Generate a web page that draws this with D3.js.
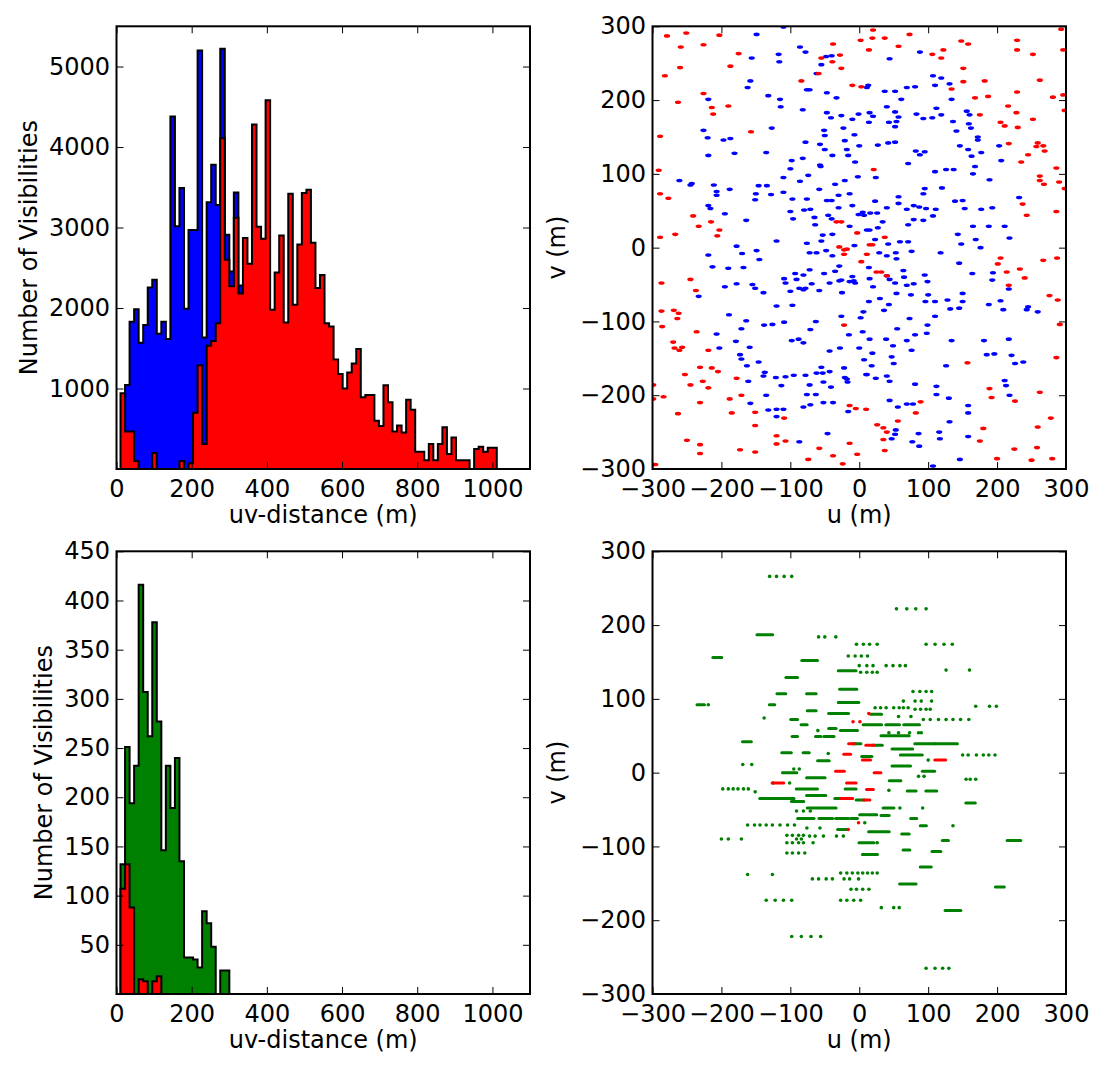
<!DOCTYPE html>
<html>
<head>
<meta charset="utf-8">
<script src="https://cdnjs.cloudflare.com/ajax/libs/d3/7.8.5/d3.min.js"></script>
<style>
body { margin: 0; background: #fff; }
svg text { font-family: "DejaVu Sans", sans-serif; font-size: 24px; fill: #000; }
</style>
</head>
<body>
<div id="chart-area"></div>
<script>
// Histogram bins (uv-distance, m) shared by all histograms
var binStart = 10.7, binWidth = 12.06;

// Top histogram counts per bin
var topBlueCounts = [0, 1044, 1830, 1985, 1570, 1790, 2255, 2350, 1680, 1830, 1615, 4380, 3015, 3490,
    1990, 2970, 2970, 5200, 1635, 3315, 3780, 3280, 5220, 2910, 2455, 3435, 2280];
var topRedCounts = [940, 465, 465, 100, 0, 0, 0, 200, 0, 0, 0, 0, 0, 100, 0, 70, 700, 1290, 310, 1530,
    1590, 1810, 4110, 2600, 2270, 3120, 2180, 2870, 2550, 4280, 3010, 2860, 4580, 1980, 2440, 2900,
    1820, 3420, 2040, 2790, 3430, 3470, 2810, 2250, 2410, 1810, 1770, 1360, 1180, 1000, 1200, 1310,
    1490, 890, 920, 920, 600, 535, 1040, 830, 465, 540, 455, 860, 735, 215, 215, 110, 310, 110, 310,
    520, 185, 390, 110, 110, 110, 0, 250, 275, 215, 265, 265];

// Bottom histogram counts per bin
var bottomGreenCounts = [132, 251, 194, 232, 416, 307, 262, 378, 277, 146, 232, 189, 240, 135, 37, 37,
    35, 27, 84, 72, 48, 0, 24, 24];
var bottomRedCounts = [107, 132, 88, 0, 15, 13, 0, 13, 18];

// Top uv-coverage [u, v] in m
var topBluePoints = [[-149,289],[-110,299],[-86,272],[-78,265],[88,265],[-156,257],[-117,262],[-116,252],
    [-48,259],[-55,248],[-40,260],[44,256],[107,233],[119,230],[-162,217],[-158,226],[-132,206],[-76,214],
    [-72,214],[-62,236],[-47,210],[-33,203],[13,220],[11,217],[37,212],[52,212],[69,217],[81,218],[110,220],
    [131,222],[-219,201],[-115,201],[-114,191],[-82,187],[-47,183],[-41,176],[-26,179],[-1,181],[15,183],
    [20,178],[40,191],[52,184],[61,201],[83,181],[93,175],[106,176],[112,189],[119,180],[134,201],[156,185],
    [160,180],[-226,159],[-220,149],[-197,146],[-187,148],[-127,162],[-78,143],[-51,159],[-50,152],[-23,162],
    [-10,174],[-7,153],[-21,145],[14,170],[43,170],[54,171],[52,164],[57,177],[136,171],[141,158],[159,168],
    [162,162],[172,150],[172,146],[-219,125],[-181,128],[-135,129],[-57,140],[-50,133],[-39,125],[-18,133],
    [-16,125],[0,138],[-6,116],[27,139],[42,142],[52,143],[82,131],[88,126],[95,130],[146,138],[158,133],
    [163,124],[177,129],[203,138],[206,118],[-98,118],[-82,121],[-57,112],[-261,91],[-245,85],[-243,87],
    [-211,85],[-207,76],[-188,79],[-110,95],[-100,107],[-86,90],[-74,98],[-56,110],[-35,86],[-21,91],[-2,96],
    [24,95],[71,114],[110,103],[126,106],[137,106],[165,100],[168,110],[189,92],[-207,71],[-146,84],[-150,73],
    [-151,65],[-134,84],[-128,72],[-110,75],[-97,66],[-76,66],[-58,79],[-47,64],[-40,64],[-30,71],[-14,73],
    [23,63],[57,69],[95,80],[93,73],[120,81],[139,63],[150,64],[232,68],[-219,57],[-216,53],[-195,46],
    [-164,37],[-100,49],[-96,39],[-80,51],[-71,52],[-65,41],[-45,44],[-40,39],[-30,54],[-10,57],[-1,45],
    [5,48],[7,44],[16,47],[26,47],[40,54],[57,60],[69,52],[79,57],[87,55],[79,38],[93,37],[97,53],[107,43],
    [111,52],[153,53],[177,52],[193,54],[-64,31],[-53,17],[-39,18],[-14,29],[11,24],[15,24],[27,27],[34,35],
    [23,11],[42,5],[59,8],[71,31],[71,8],[143,18],[148,5],[165,29],[169,11],[188,29],[211,29],[218,13],
    [-178,2],[-170,-8],[-219,-10],[-213,-26],[-190,-28],[-149,-4],[-145,-16],[-120,9],[-76,6],[-72,-7],
    [-62,-7],[-55,9],[-48,-4],[-39,-11],[-29,-25],[-7,3],[29,-7],[40,-11],[53,-7],[54,-15],[76,-5],[118,-7],
    [145,-21],[176,0],[-233,-66],[-195,-53],[-178,-49],[-155,-50],[-151,-55],[-168,-27],[-139,-61],
    [-109,-42],[-107,-48],[-100,-59],[-93,-35],[-91,-43],[-81,-37],[-78,-55],[-72,-30],[-69,-49],[-58,-58],
    [-51,-35],[-43,-48],[-35,-32],[-29,-45],[-26,-44],[-25,-61],[-14,-46],[-8,-45],[-6,-48],[-10,-39],
    [14,-27],[15,-42],[20,-53],[40,-38],[44,-43],[52,-48],[64,-31],[65,-40],[69,-51],[75,-64],[79,-49],
    [95,-37],[99,-46],[100,-64],[96,-73],[164,-35],[194,-34],[193,-44],[217,-56],[-189,-91],[-120,-79],
    [-97,-78],[-87,-55],[-81,-57],[-26,-93],[6,-87],[2,-95],[14,-73],[30,-69],[43,-77],[36,-85],[54,-62],
    [110,-73],[110,-93],[128,-71],[132,-83],[145,-82],[150,-73],[150,-62],[188,-77],[205,-72],[209,-84],
    [243,-84],[245,-80],[259,-87],[-171,-110],[-164,-99],[-179,-127],[-207,-117],[-203,-136],[-138,-105],
    [-126,-104],[-109,-101],[-98,-126],[-88,-124],[-81,-129],[-71,-111],[-63,-100],[-15,-118],[5,-114],
    [15,-124],[39,-124],[55,-110],[73,-96],[81,-118],[99,-105],[98,-116],[134,-126],[181,-126],[217,-124],
    [-173,-145],[-171,-151],[-163,-160],[-159,-135],[-161,-181],[-146,-155],[-137,-169],[-121,-176],
    [-113,-187],[-107,-175],[-95,-173],[-78,-173],[-62,-170],[-55,-162],[-53,-170],[-43,-168],[-43,-140],
    [-28,-136],[-22,-163],[-21,-176],[0,-136],[7,-152],[19,-143],[18,-160],[11,-172],[24,-177],[40,-174],
    [47,-148],[50,-157],[49,-133],[69,-126],[76,-139],[126,-160],[185,-145],[196,-144],[221,-146],
    [226,-157],[238,-155],[-139,-174],[-135,-200],[-132,-220],[-158,-211],[-72,-186],[-52,-182],[-41,-189],
    [-76,-199],[-63,-199],[-18,-178],[-17,-182],[10,-172],[44,-181],[81,-185],[112,-188],[112,-199],
    [130,-204],[211,-180],[213,-187],[218,-200],[-120,-219],[-110,-219],[-81,-216],[-71,-213],[-52,-210],
    [-38,-210],[-16,-222],[44,-207],[56,-216],[69,-212],[78,-212],[-120,-229],[158,-214],[158,-224],
    [-87,-263],[-46,-252],[53,-247],[52,-253],[47,-259],[86,-252],[77,-263],[87,-269],[116,-250],
    [117,-259],[131,-236],[158,-256],[146,-287],[107,-296]];

var topRedPoints = [[-279,287],[-251,291],[-203,288],[20,295],[19,284],[37,284],[73,289],[293,296],[2,281],
    [-259,272],[-226,275],[-175,263],[-38,276],[14,268],[57,273],[106,262],[122,268],[148,280],[158,276],
    [229,281],[229,268],[296,268],[252,262],[-260,244],[-282,233],[-187,246],[-55,257],[-39,252],[-28,261],
    [-26,243],[119,257],[151,243],[262,227],[-226,209],[-84,226],[-59,236],[-10,220],[3,218],[134,215],
    [151,225],[182,226],[187,205],[168,203],[229,211],[296,207],[281,204],[-263,197],[-214,190],[-212,181],
    [-190,192],[175,180],[216,192],[228,183],[252,174],[298,186],[-289,151],[-157,157],[205,170],[211,165],
    [230,163],[217,141],[259,142],[267,138],[235,116],[245,126],[257,137],[269,131],[-291,105],[21,106],
    [262,97],[262,91],[268,86],[286,108],[290,89],[298,80],[-289,73],[-277,67],[-241,43],[-267,18],
    [-215,35],[-33,35],[-26,35],[237,59],[243,44],[286,49],[-289,14],[-233,29],[-206,16],[-203,24],[-3,20],
    [37,14],[-29,1],[-22,-3],[-18,-2],[-22,-9],[3,-19],[11,-9],[15,4],[19,4],[205,-14],[201,-22],[267,-17],
    [287,-14],[-287,-48],[-245,-43],[-237,-58],[25,-33],[32,-33],[40,-38],[214,-33],[217,-51],[233,-29],
    [240,-41],[-287,-86],[-269,-85],[-262,-89],[-264,-96],[-286,-107],[-22,-105],[276,-65],[288,-71],
    [-236,-114],[-270,-128],[-268,-136],[-261,-139],[-257,-135],[291,-104],[-253,-172],[-245,-186],
    [-231,-162],[-227,-181],[-219,-139],[-214,-163],[-205,-168],[157,-156],[286,-149],[-219,-190],
    [-178,-177],[-299,-186],[-299,-205],[-284,-202],[-171,-200],[-188,-205],[89,-209],[189,-191],
    [192,-203],[226,-208],[262,-196],[-231,-210],[-263,-225],[-185,-224],[-151,-223],[-14,-214],[-5,-218],
    [10,-219],[-109,-231],[82,-224],[278,-231],[-250,-261],[-231,-267],[-231,-279],[-173,-274],[-151,-241],
    [-151,-277],[-120,-255],[-120,-266],[-107,-262],[-58,-272],[-14,-265],[26,-240],[35,-244],[40,-250],
    [35,-260],[56,-235],[180,-245],[175,-262],[259,-243],[258,-271],[225,-273],[-74,-287],[-38,-282],
    [-24,-293],[-3,-280],[37,-275],[200,-286],[250,-288],[280,-286],[-296,-294]];

// Bottom uv-coverage: single samples [u, v] and continuous tracks [v, uStart, uEnd]
var bottomGreenDots = [[-130,266],[-120,266],[-109,266],[-98,266],[54,222],[69,222],[82,222],[97,222],
    [-59,184],[-50,184],[-34,184],[-4,174],[6,174],[15,174],[26,174],[97,174],[110,174],[123,174],[135,174],
    [-16,158],[-6,158],[3,158],[12,158],[0,145],[11,145],[20,145],[39,145],[49,145],[59,145],[67,145],
    [126,139],[160,139],[2,136],[11,136],[19,136],[26,136],[78,110],[88,110],[97,110],[105,110],
    [64,97],[81,97],[90,97],[105,97],[-219,92],[169,90],[189,90],[199,90],[23,88],[31,88],[39,88],
    [50,88],[58,88],[64,88],[71,88],[81,86],[89,86],[97,86],[103,86],[57,76],[75,76],[-138,74],
    [93,72],[103,72],[115,72],[126,72],[136,72],[147,72],[159,72],[-60,57],[43,54],[57,54],[73,54],[86,54],
    [90,54],[-45,26],[150,24],[158,24],[170,24],[180,24],[188,24],[197,24],[100,17],[-169,11],[-156,11],
    [-95,5],[-87,5],[86,-5],[94,-5],[155,-9],[161,-9],[169,-9],[-125,-14],[-101,-14],[43,-24],
    [-198,-22],[-190,-22],[-183,-22],[-176,-22],[-168,-22],[-161,-22],[-151,-26],[59,-48],[92,-48],
    [-91,-52],[-81,-52],[-71,-52],[8,-68],[-162,-71],[-152,-71],[-144,-71],[-135,-71],[-126,-71],
    [-115,-71],[-104,-71],[-94,-71],[136,-72],[-76,-75],[-57,-75],[-105,-85],[-97,-85],[-88,-85],
    [-81,-85],[-72,-86],[-64,-86],[-52,-86],[-33,-86],[-23,-86],[-91,-90],[-84,-90],[-200,-90],[-190,-90],
    [-171,-90],[-105,-95],[-97,-95],[-88,-95],[-81,-95],[-67,-95],[26,-95],[-105,-109],[-97,-109],
    [-88,-109],[-79,-109],[-27,-136],[-18,-136],[-10,-136],[-2,-136],[5,-136],[12,-136],[19,-136],
    [26,-136],[-162,-138],[-126,-138],[-68,-144],[-59,-144],[-48,-144],[-39,-144],[-22,-144],[-14,-144],
    [-1,-144],[-12,-158],[-4,-158],[5,-158],[14,-158],[-135,-173],[-122,-173],[-110,-173],[-98,-173],
    [-27,-173],[-18,-173],[-8,-173],[2,-173],[32,-183],[50,-183],[58,-183],[-98,-222],[-84,-222],
    [-70,-222],[-56,-222],[97,-265],[110,-265],[121,-265],[130,-265]];

var bottomGreenDashes = [[187,-147,-127],[156,-211,-201],[152,-82,-62],[138,-29,-6],[129,-105,-91],
    [113,-27,-5],[107,-118,-108],[107,-75,-64],[95,-29,-2],[92,-234,-226],[92,-129,-124],[84,-74,-64],
    [80,-43,-17],[79,18,31],[72,-98,-91],[65,-83,-77],[65,7,31],[65,40,57],[65,66,86],[60,-43,-35],
    [57,-26,-4],[50,33,71],[49,-96,-91],[49,-62,-57],[49,-50,-38],[42,-168,-158],[39,-8,1],[39,82,108],
    [39,111,141],[37,21,32],[32,49,76],[27,-111,-100],[27,-80,-74],[24,61,90],[22,5,17],[16,-59,-45],
    [9,49,73],[2,93,108],[0,-110,-92],[-7,-75,-51],[-11,45,59],[-22,-19,-6],[-22,-90,-62],[-25,71,81],
    [-25,98,111],[-31,-75,-50],[-35,-143,-96],[-35,-34,-27],[-37,-3,6],[-39,-97,-82],[-41,156,167],
    [-48,-74,-35],[-48,36,49],[-57,2,24],[-58,33,42],[-62,-88,-67],[-62,-57,-40],[-62,-33,-17],
    [-62,-11,-4],[-62,76,82],[-72,90,96],[-77,-30,-18],[-80,15,42],[-83,63,71],[-92,122,128],
    [-92,216,233],[-95,1,20],[-105,65,72],[-107,107,117],[-111,6,25],[-128,90,103],[-151,60,81],
    [-155,199,209],[-187,126,146]];

var bottomRedDots = [[14,80],[-9,69],[1,69],[-1,-68],[-16,-77]];
var bottomRedDashes = [[39,-14,-8],[37,11,20],[25,-21,-14],[17,6,15],[17,111,124],[2,-33,-23],
    [0,23,30],[-14,-125,-111],[-14,-17,-6],[-23,12,19],[-35,-26,-11],[-37,8,14]];

// Tick values
var histXTicks = [0, 200, 400, 600, 800, 1000];
var topHistYTicks = [1000, 2000, 3000, 4000, 5000];
var bottomHistYTicks = [50, 100, 150, 200, 250, 300, 350, 400, 450];
var uvTicks = [-300, -200, -100, 0, 100, 200, 300];

// ---- layout ----
var pw = 413.5, ph = 442.7;
var colLeft = [116.5, 652.5], rowTop = [26.3, 551.3];

var svg = d3.select("#chart-area").append("svg")
    .attr("width", 1107)
    .attr("height", 1069);

var clipN = 0;

// Build one panel: frame, inward ticks on all four sides, labels
function makePanel(left, top, xDomain, yDomain, xTicks, yTicks, xLabel, yLabel, yLabelX) {
    var g = svg.append("g")
        .attr("transform", "translate(" + left + "," + top + ")");
    var x = d3.scaleLinear().domain(xDomain).range([0, pw]);
    var y = d3.scaleLinear().domain(yDomain).range([ph, 0]);
    var fmt = d3.format("d");

    var id = "clip" + (clipN++);
    g.append("clipPath").attr("id", id)
        .append("rect").attr("width", pw).attr("height", ph);
    var plot = g.append("g").attr("clip-path", "url(#" + id + ")");

    var axes = [
        { ax: d3.axisBottom(x).tickValues(xTicks).tickFormat(fmt).tickPadding(11), t: "translate(0," + ph + ")" },
        { ax: d3.axisTop(x).tickValues(xTicks).tickFormat(""), t: "" },
        { ax: d3.axisLeft(y).tickValues(yTicks).tickFormat(fmt).tickPadding(6.5), t: "" },
        { ax: d3.axisRight(y).tickValues(yTicks).tickFormat(""), t: "translate(" + pw + ",0)" }
    ];
    var frameLayer = g.append("g");
    axes.forEach(function(a) {
        var ag = frameLayer.append("g")
            .attr("transform", a.t)
            .call(a.ax.tickSize(-7).tickSizeOuter(0));
        ag.select(".domain").remove();
        ag.selectAll(".tick line").attr("stroke", "#000").attr("stroke-width", 1);
        ag.selectAll("text")
            .attr("font-family", "DejaVu Sans, sans-serif")
            .attr("font-size", 24)
            .attr("fill", "#000");
    });
    frameLayer.selectAll(".tick text").filter(function() { return this.textContent === ""; }).remove();

    frameLayer.append("rect")
        .attr("width", pw)
        .attr("height", ph)
        .attr("fill", "none")
        .attr("stroke", "#000")
        .attr("stroke-width", 2);

    g.append("text")
        .attr("x", pw / 2)
        .attr("y", ph + 54)
        .attr("text-anchor", "middle")
        .text(xLabel);

    g.append("text")
        .attr("transform", "translate(" + (yLabelX - left) + "," + (ph / 2) + ") rotate(-90)")
        .attr("text-anchor", "middle")
        .text(yLabel);

    return { g: g, plot: plot, x: x, y: y, frame: frameLayer };
}

// Step outline of a histogram from its counts
function histPath(p, counts) {
    var pts = [[binStart, 0]];
    counts.forEach(function(c, i) {
        pts.push([binStart + i * binWidth, c]);
        pts.push([binStart + (i + 1) * binWidth, c]);
    });
    pts.push([binStart + counts.length * binWidth, 0]);
    return d3.line()
        .x(function(d) { return p.x(d[0]); })
        .y(function(d) { return p.y(d[1]); })(pts);
}

function drawHist(p, counts, colour) {
    p.plot.append("path")
        .attr("d", histPath(p, counts))
        .attr("fill", colour)
        .attr("stroke", "#000")
        .attr("stroke-width", 2)
        .attr("stroke-linejoin", "miter");
}

function drawUvPoints(p, pts, colour) {
    p.plot.selectAll(null)
        .data(pts)
        .enter().append("ellipse")
        .attr("cx", function(d) { return p.x(d[0]); })
        .attr("cy", function(d) { return p.y(d[1]); })
        .attr("rx", 3.1)
        .attr("ry", 1.8)
        .attr("fill", colour);
}

function drawTracks(p, dots, dashes, colour) {
    p.plot.selectAll(null)
        .data(dashes)
        .enter().append("line")
        .attr("x1", function(d) { return p.x(d[1]) - 1; })
        .attr("x2", function(d) { return p.x(d[2]) + 1; })
        .attr("y1", function(d) { return p.y(d[0]); })
        .attr("y2", function(d) { return p.y(d[0]); })
        .attr("stroke", colour)
        .attr("stroke-width", 3)
        .attr("stroke-linecap", "round");
    p.plot.selectAll(null)
        .data(dots)
        .enter().append("circle")
        .attr("cx", function(d) { return p.x(d[0]); })
        .attr("cy", function(d) { return p.y(d[1]); })
        .attr("r", 1.8)
        .attr("fill", colour);
}

// Top left: histogram, blue under red
var tl = makePanel(colLeft[0], rowTop[0], [0, 1100], [0, 5500], histXTicks, topHistYTicks,
    "uv-distance (m)", "Number of Visibilities", 37);
drawHist(tl, topBlueCounts, "#0000ff");
drawHist(tl, topRedCounts, "#ff0000");
tl.frame.raise();

// Top right: uv plane
var tr = makePanel(colLeft[1], rowTop[0], [-300, 300], [-300, 300], uvTicks, uvTicks,
    "u (m)", "v (m)", 565);
drawUvPoints(tr, topBluePoints, "#0000ff");
drawUvPoints(tr, topRedPoints, "#ff0000");
tr.frame.raise();

// Bottom left: histogram, green under red
var bl = makePanel(colLeft[0], rowTop[1], [0, 1100], [0, 450], histXTicks, bottomHistYTicks,
    "uv-distance (m)", "Number of Visibilities", 52);
drawHist(bl, bottomGreenCounts, "#008000");
drawHist(bl, bottomRedCounts, "#ff0000");
bl.frame.raise();

// Bottom right: uv plane
var br = makePanel(colLeft[1], rowTop[1], [-300, 300], [-300, 300], uvTicks, uvTicks,
    "u (m)", "v (m)", 565);
drawTracks(br, bottomGreenDots, bottomGreenDashes, "#008000");
drawTracks(br, bottomRedDots, bottomRedDashes, "#ff0000");
br.frame.raise();
</script>
</body>
</html>
